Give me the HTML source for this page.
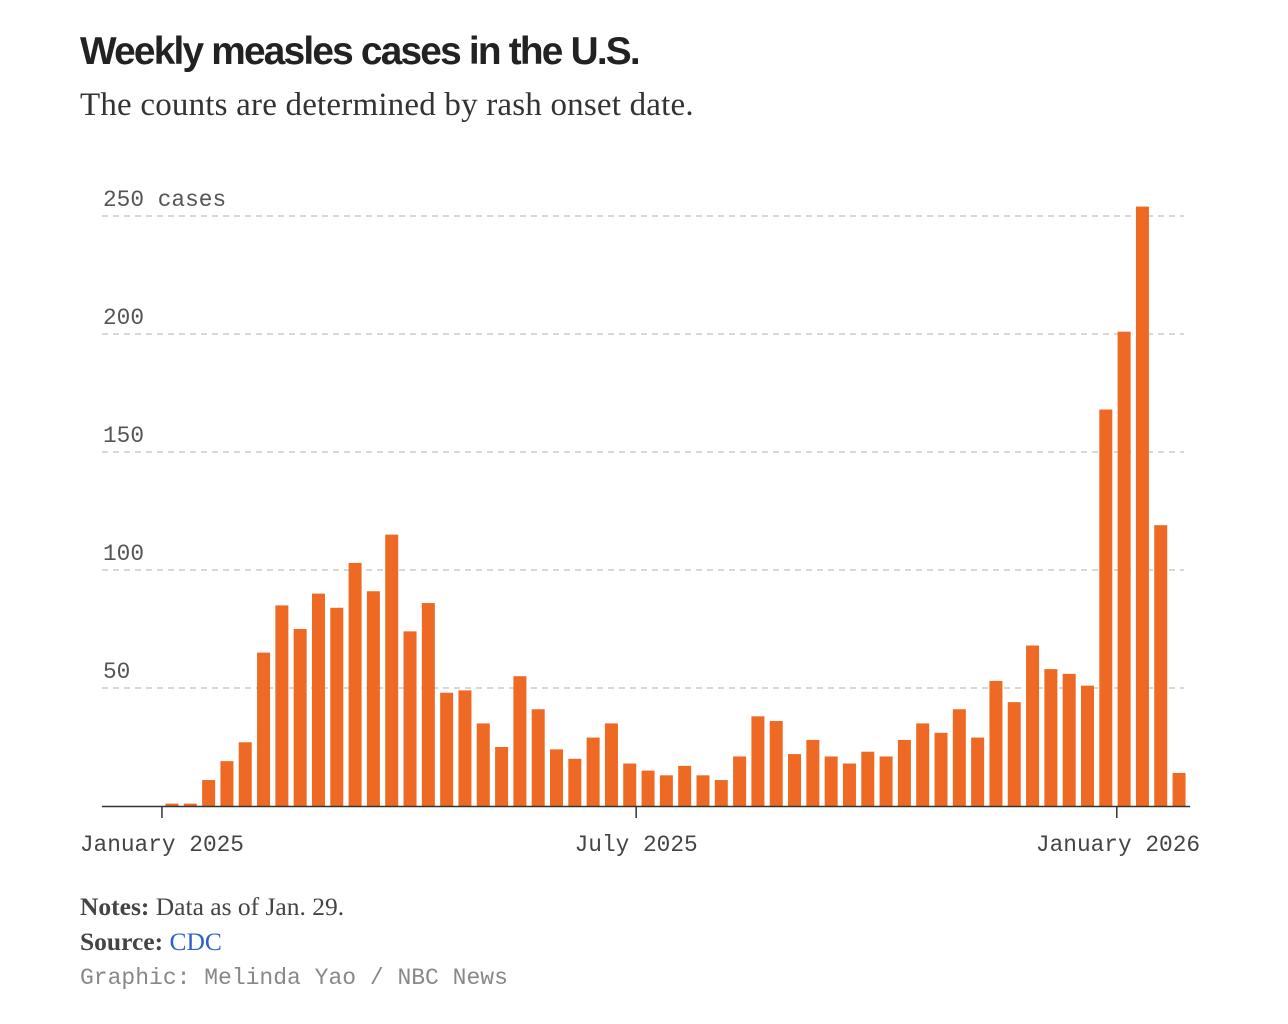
<!DOCTYPE html>
<html><head><meta charset="utf-8">
<style>
body{margin:0;background:#fff;width:1288px;height:1024px;overflow:hidden;position:relative;font-family:"Liberation Sans",sans-serif}
.t{position:absolute;white-space:nowrap}
</style></head><body>
<div class="t" style="left:80px;top:30px;font-size:39px;font-weight:bold;color:#222;letter-spacing:-1.8px;transform:scaleX(0.995);transform-origin:left">Weekly measles cases in the U.S.</div>
<div class="t" style="left:80px;top:87px;font-family:'Liberation Serif',serif;font-size:33px;color:#333;letter-spacing:0.2px">The counts are determined by rash onset date.</div>
<svg id="chart" width="1288" height="880" style="position:absolute;left:0;top:0"></svg>
<div class="t" style="left:80px;top:892px;font-family:'Liberation Serif',serif;font-size:25.5px;color:#444"><b>Notes:</b> Data as of Jan. 29.</div>
<div class="t" style="left:80px;top:927px;font-family:'Liberation Serif',serif;font-size:25.5px;color:#444"><b>Source:</b> <span style="color:#2f5fd0">CDC</span></div>
<div class="t" style="left:80px;top:965px;font-family:'Liberation Mono',monospace;font-size:23px;color:#888">Graphic: Melinda Yao / NBC News</div>
<script>
const values=[1,1,11,19,27,65,85,75,90,84,103,91,115,74,86,48,49,35,25,55,41,24,20,29,35,18,15,13,17,13,11,21,38,36,22,28,21,18,23,21,28,35,31,41,29,53,44,68,58,56,51,168,201,254,119,14];
const yTicks=[50,100,150,200,250];
const yTickLabels=["50","100","150","200","250 cases"];
const xTickLabels=["January 2025","July 2025","January 2026"];
const xTickWeeks=[-0.55,25.35,51.6];
const ns="http://www.w3.org/2000/svg";
const svg=document.getElementById('chart');
const y=v=>806-v*2.36;
const x=i=>172+i*18.31;
function mk(t,a){const e=document.createElementNS(ns,t);for(const k in a)e.setAttribute(k,a[k]);svg.appendChild(e);return e;}
yTicks.forEach((v,i)=>{
 const l=mk('line',{x1:102,x2:1184,y1:y(v),y2:y(v),stroke:'#ccc','stroke-width':1.5,'stroke-dasharray':'6,5'});
 
 
 const t=mk('text',{x:103,y:y(v)-10,'font-family':'Liberation Mono,monospace','font-size':22.8,fill:'#555'});
 t.textContent=yTickLabels[i];
 
 
});
values.forEach((v,i)=>{
 const r=mk('rect',{x:x(i)-6.5,y:y(v),width:13,height:806-y(v),fill:'#ee6a24'});
 
 
});
const ax=mk('line',{x1:102,x2:1190,y1:806.5,y2:806.5,stroke:'#333','stroke-width':1.5});


xTickLabels.forEach((s,i)=>{
 const px=x(xTickWeeks[i]);
 const tk=mk('line',{x1:px,x2:px,y1:806,y2:818,stroke:'#333','stroke-width':1.5});
 
 
 const t=mk('text',{x:i==2?1118:px,y:851,'text-anchor':'middle','font-family':'Liberation Mono,monospace','font-size':22.8,fill:'#444'});
 t.textContent=s;
 
 
});
</script>
</body></html>
